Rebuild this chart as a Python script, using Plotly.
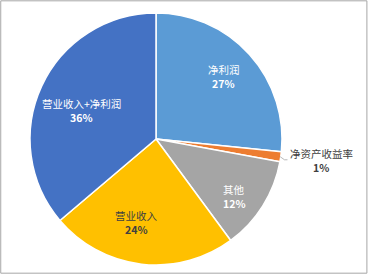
import math
import plotly.graph_objects as go

labels = ["净利润", "净资产收益率", "其他", "营业收入", "营业收入+净利润"]
values = [26.6, 1.3, 12.0, 23.9, 36.2]
pct_text = ["27%", "1%", "12%", "24%", "36%"]
colors = ["#5B9BD5", "#ED7D31", "#A5A5A5", "#FFC000", "#4472C4"]
text_colors = ["#FFFFFF", "#404040", "#FFFFFF", "#404040", "#FFFFFF"]

# label placement style: (radius fraction, angle shift in degrees); None => outside with leader
label_place = [(0.735, -0.7), None, (0.77, 4.0), (0.68, 6.7), (0.635, -4.3)]

W, H = 368, 274
cx, cy, r = 156, 139, 126
line_gap = 14.0
fsize = 10.5

fig = go.Figure(go.Pie(
    labels=labels,
    values=values,
    sort=False,
    direction="clockwise",
    rotation=0,
    marker=dict(colors=colors, line=dict(color="#FFFFFF", width=1.5)),
    textinfo="none",
    showlegend=False,
    hoverinfo="label+percent",
    domain=dict(x=[(cx - r) / W, (cx + r) / W], y=[1 - (cy + r) / H, 1 - (cy - r) / H]),
))

total = sum(values)
annotations = []
shapes = [dict(type="rect", xref="paper", yref="paper", x0=0.002, y0=0.003, x1=0.997, y1=0.997,
               line=dict(color="#A6A6A6", width=1))]


def to_paper(px, py):
    return px / W, 1 - py / H


def add_pair(px, py, lab, pt, tc):
    for i, t in enumerate([lab, f"<b>{pt}</b>"]):
        ax, ay = to_paper(px, py + (i - 0.5) * line_gap)
        annotations.append(dict(x=ax, y=ay, xref="paper", yref="paper", text=t, showarrow=False,
                                xanchor="center", yanchor="middle", align="center", borderpad=0,
                                font=dict(family="Noto Sans CJK SC", size=fsize, color=tc)))


cum = 0.0
for lab, v, pt, tc, place in zip(labels, values, pct_text, text_colors, label_place):
    mid = (cum + v / 2) / total * 360.0
    cum += v
    if place is None:
        th = math.radians(mid)
        x0, y0 = cx + r * 0.995 * math.sin(th), cy - r * 0.995 * math.cos(th)
        x1, y1 = cx + r * 1.03 * math.sin(th), cy - r * 1.03 * math.cos(th) + 2.5
        x2 = x1 + 3
        p0, p1, p2 = to_paper(x0, y0), to_paper(x1, y1), to_paper(x2, y1)
        shapes.append(dict(type="path", xref="paper", yref="paper",
                           path=f"M {p0[0]},{p0[1]} L {p1[0]},{p1[1]} L {p2[0]},{p2[1]}",
                           line=dict(color="#A6A6A6", width=0.8)))
        add_pair(x2 + 34, y1 + 1, lab, pt, tc)
    else:
        frac, dang = place
        th = math.radians(mid + dang)
        px, py = cx + frac * r * math.sin(th), cy - frac * r * math.cos(th)
        add_pair(px, py, lab, pt, tc)

fig.update_layout(
    width=W, height=H,
    margin=dict(l=0, r=0, t=0, b=0),
    paper_bgcolor="#FFFFFF",
    plot_bgcolor="#FFFFFF",
    font=dict(family="Noto Sans CJK SC", size=11, color="#404040"),
    shapes=shapes,
    annotations=annotations,
)

fig.write_html("out.html")
